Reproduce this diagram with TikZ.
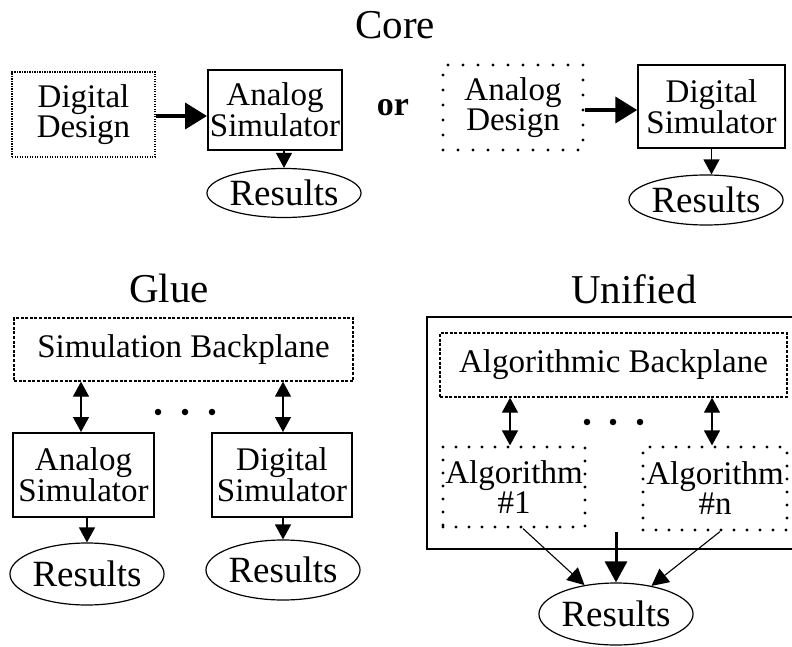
\documentclass[tikz,border=0pt]{standalone}
\usepackage{fontspec}
\setmainfont{Liberation Serif}
\usetikzlibrary{arrows.meta,shapes.geometric}
\begin{document}
\begin{tikzpicture}[x=1pt,y=-1pt,
  blk/.style={rectangle,inner sep=0pt,align=center,font=\fontsize{33}{28}\selectfont},
  solidbox/.style={blk,draw,line width=2pt},
  finedot/.style={blk,draw,line width=1.2pt,dash pattern=on 1.2pt off 1.3pt},
  bigdot/.style={blk,draw,line width=3.2pt,line cap=round,dash pattern=on 0pt off #1},
  bigdot/.default=14pt,
  dashbox/.style={blk,draw,line width=1.3pt,dash pattern=on 3pt off 1.6pt},
  res/.style={ellipse,draw,line width=1.2pt,inner sep=0pt,font=\fontsize{37}{37}\selectfont},
  ttl/.style={anchor=base,font=\fontsize{41}{41}\selectfont},
  bigarr/.style={line width=4pt,-{Triangle[length=22pt,width=26pt]}},
  smallarr/.style={line width=1.3pt,-{Triangle[length=15pt,width=16pt]}},
  bidir/.style={line width=1.3pt,{Triangle[length=15pt,width=16pt]}-{Triangle[length=15pt,width=16pt]}},
  thinarr/.style={line width=1.1pt,-{Triangle[length=17pt,width=17pt]}},
  midarr/.style={line width=3pt,-{Triangle[length=21pt,width=22pt]}},
  dotmark/.style={circle,fill,inner sep=0pt,minimum size=6.5pt}
]
\useasboundingbox (0,0) rectangle (792,647);

% ---------- Core ----------
\node[ttl] (core) at (395,39) {Core};
\node[finedot,minimum width=143pt,minimum height=85pt] (dd) at (83.5,114.5) {Digital\\Design};
\node[solidbox,minimum width=134pt,minimum height=80pt] (as1) at (275,110) {Analog\\Simulator};
\node[res,minimum width=142pt,minimum height=49pt] (res1) at (284,193) {Results};
\draw[bigarr] (dd.east |- 0,116) -- (as1.west |- 0,116);
\draw[smallarr] (res1.north |- as1.south) -- (res1.north);

\node[anchor=base,font=\fontsize{34}{34}\selectfont\bfseries] (or) at (393,116) {or};

\node[bigdot=15pt,minimum width=140pt,minimum height=85pt] (ad) at (513,107.5) {Analog\\Design};
\node[solidbox,line width=1.5pt,minimum width=147pt,minimum height=83pt] (ds1) at (711.5,106.5) {Digital\\Simulator};
\node[res,minimum width=130pt,minimum height=50pt] (res2) at (706,200) {Results};
\draw[bigarr] (ad.east |- 0,110) -- (ds1.west |- 0,110);
\draw[smallarr] (ds1.south) -- (ds1.south |- res2.north);

% ---------- Glue ----------
\node[ttl] (glue) at (169,302) {Glue};
\node[dashbox,minimum width=339pt,minimum height=63pt] (sb) at (183.5,349.5) {Simulation Backplane};
\node[solidbox,minimum width=141pt,minimum height=84pt] (as2) at (83.5,475) {Analog\\Simulator};
\node[solidbox,minimum width=140pt,minimum height=84pt] (ds2) at (282,475) {Digital\\Simulator};
\node[res,minimum width=140pt,minimum height=62pt] (res3) at (87,574) {Results};
\node[res,minimum width=140pt,minimum height=60pt] (res4) at (283,570) {Results};
\draw[bidir] (sb.south -| 81,0) -- (as2.north -| 81,0);
\draw[bidir] (sb.south -| 283,0) -- (ds2.north -| 283,0);
\draw[smallarr] (res3.north |- as2.south) -- (res3.north);
\draw[smallarr] (res4.north |- ds2.south) -- (res4.north);
\node[dotmark] (gd1) at (158,412) {};
\node[dotmark] (gd2) at (185,412) {};
\node[dotmark] (gd3) at (212,412) {};

% ---------- Unified ----------
\node[ttl] (unified) at (634,303) {Unified};
\draw[line width=1.5pt] (795,317) -- (427,317) -- (427,549) -- (795,549);
\node[dashbox,minimum width=347pt,minimum height=64pt] (ab) at (613.5,365) {Algorithmic Backplane};
\node[bigdot=13pt,minimum width=142pt,minimum height=80pt,font=\fontsize{33}{30}\selectfont] (a1) at (514,487) {Algorithm\\\#1};
\node[bigdot=13pt,minimum width=144pt,minimum height=83pt,font=\fontsize{33}{30}\selectfont] (an) at (715,488.5) {Algorithm\\\#n};
\node[res,minimum width=125pt,minimum height=62pt] (res5) at (616,614) {Results};
\draw[bidir] (ab.south -| 510,0) -- (a1.north -| 510,0);
\draw[bidir] (ab.south -| 712,0) -- (an.north -| 712,0);
\node[dotmark] (ud1) at (587,422) {};
\node[dotmark] (ud2) at (613,422) {};
\node[dotmark] (ud3) at (640,422) {};
\coordinate (a1o) at ([xshift=9pt]a1.south);
\coordinate (ano) at ([xshift=5pt]an.south);
\coordinate (mid) at (616,532);
\draw[thinarr] (a1o) -- (res5);
\draw[thinarr] (ano) -- (res5);
\draw[midarr] (mid) -- (res5.north);
\end{tikzpicture}
\end{document}
